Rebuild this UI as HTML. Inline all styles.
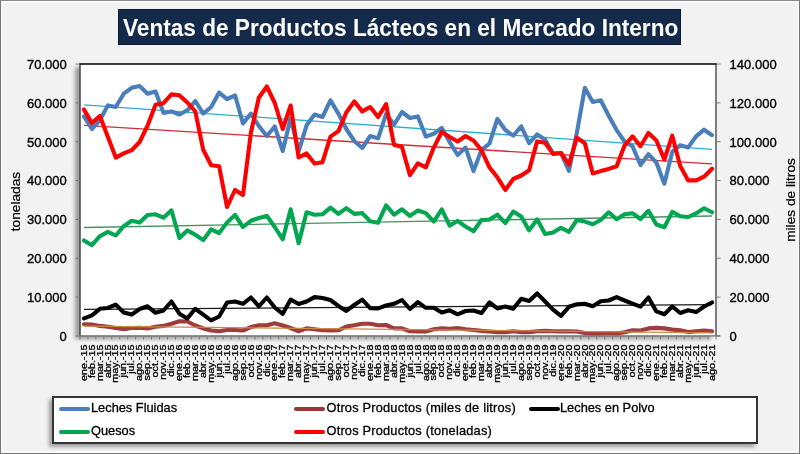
<!DOCTYPE html>
<html><head><meta charset="utf-8"><style>
html,body{margin:0;padding:0;width:800px;height:454px;overflow:hidden;background:#f2f2f2;}
body{position:relative;font-family:"Liberation Sans",sans-serif;}
.frame{position:absolute;left:0;top:0;width:798px;height:452px;border:1px solid #777;border-top-color:#8a8a8a;box-shadow:inset 0 0 0 1px #fbfbfb, inset 0 0 0 2px rgba(255,255,255,0.5);}
.title{position:absolute;left:118px;top:9px;width:561px;height:34px;background:#132a4b;border:1px solid #0c1b33;}
.ttl{position:absolute;left:123px;top:15.85px;color:#fff;font-weight:bold;font-size:23.8px;line-height:1;white-space:nowrap;transform:scaleX(0.95);transform-origin:0 0;}
.plot{position:absolute;left:80px;top:64px;width:636px;height:272px;background:#fff;box-shadow:-5px 3px 4px rgba(0,0,0,0.36);}
.legend{position:absolute;left:52px;top:396px;width:702px;height:44px;background:#fff;border:2px solid #343434;box-shadow:-3px 3px 4px rgba(0,0,0,0.35);}
svg{position:absolute;left:0;top:0;}
.ax{font-size:13.5px;fill:#000;stroke:#000;stroke-width:0.35px;}
.xl{font-size:9.8px;fill:#000;stroke:#000;stroke-width:0.3px;}
.tt{font-size:13.7px;fill:#000;stroke:#000;stroke-width:0.2px;}
.lg{position:absolute;font-size:12.8px;color:#000;-webkit-text-stroke:0.3px #000;white-space:nowrap;line-height:15px;}
.ll{position:absolute;height:4px;border-radius:2px;}
</style></head><body>
<div class="frame"></div>
<div class="title"></div>
<div class="ttl">Ventas de Productos Lácteos en el Mercado Interno</div>
<div class="plot"></div>
<div class="legend"></div>
<svg width="800" height="454" viewBox="0 0 800 454">
<defs><clipPath id="pc"><rect x="80" y="64" width="636" height="272"/></clipPath></defs>
<g>
<line x1="84.00" y1="309.40" x2="712.00" y2="304.60" stroke="#1a1a1a" stroke-width="1.3"/>
<line x1="84.00" y1="227.50" x2="712.00" y2="216.00" stroke="#4a8f5e" stroke-width="1.3"/>
<line x1="84.00" y1="104.90" x2="712.00" y2="149.30" stroke="#2badd2" stroke-width="1.3"/>
<line x1="84.00" y1="125.30" x2="712.00" y2="163.90" stroke="#d42a35" stroke-width="1.3"/>
<polyline points="83.97,324.30 91.92,324.60 99.88,325.90 107.83,326.80 115.78,328.00 123.72,329.30 131.68,328.00 139.62,327.80 147.57,328.40 155.53,326.80 163.48,325.90 171.43,323.80 179.38,321.20 187.32,321.50 195.28,325.50 203.23,328.40 211.18,330.50 219.12,331.30 227.08,330.00 235.03,330.00 242.97,330.50 250.93,327.10 258.88,325.30 266.83,325.30 274.77,323.20 282.73,325.50 290.68,328.00 298.62,331.30 306.58,328.40 314.52,329.30 322.48,330.30 330.43,330.50 338.38,330.30 346.32,326.50 354.28,325.30 362.23,323.80 370.18,323.80 378.12,325.30 386.07,325.00 394.03,328.40 401.98,328.40 409.93,331.30 417.88,331.50 425.82,331.50 433.78,329.30 441.73,328.40 449.68,328.80 457.62,328.00 465.57,329.30 473.53,330.00 481.48,330.90 489.43,331.50 497.38,332.10 505.32,332.10 513.28,331.30 521.23,332.10 529.17,332.10 537.12,331.30 545.08,330.90 553.03,331.30 560.98,331.40 568.92,331.30 576.88,331.50 584.83,333.00 592.77,333.40 600.73,333.40 608.68,333.00 616.62,333.40 624.58,332.30 632.52,330.20 640.48,330.50 648.43,328.40 656.38,327.90 664.33,328.40 672.27,329.60 680.23,330.30 688.18,332.10 696.12,331.30 704.08,330.50 712.02,331.30" fill="none" stroke="#a03c3c" stroke-width="4.1" stroke-linejoin="round" stroke-linecap="round"/>
<polyline points="83.97,318.40 91.92,315.30 99.88,308.80 107.83,308.00 115.78,304.60 123.72,312.50 131.68,314.60 139.62,309.00 147.57,306.30 155.53,312.80 163.48,310.50 171.43,301.50 179.38,313.70 187.32,318.40 195.28,308.80 203.23,314.60 211.18,320.30 219.12,316.50 227.08,302.50 235.03,301.50 242.97,303.80 250.93,297.50 258.88,306.30 266.83,297.50 274.77,307.50 282.73,313.80 290.68,299.60 298.62,304.00 306.58,301.50 314.52,297.10 322.48,298.00 330.43,300.00 338.38,305.90 346.32,310.90 354.28,305.00 362.23,299.60 370.18,308.10 378.12,308.40 386.07,305.50 394.03,303.80 401.98,300.00 409.93,309.00 417.88,302.10 425.82,307.80 433.78,307.80 441.73,312.50 449.68,310.30 457.62,314.30 465.57,311.00 473.53,310.50 481.48,313.00 489.43,302.50 497.38,308.40 505.32,306.50 513.28,308.80 521.23,298.80 529.17,300.90 537.12,293.40 545.08,301.50 553.03,309.60 560.98,315.80 568.92,306.80 576.88,304.30 584.83,303.80 592.77,306.30 600.73,301.30 608.68,300.50 616.62,297.10 624.58,300.50 632.52,303.60 640.48,306.60 648.43,297.50 656.38,311.40 664.33,314.30 672.27,306.50 680.23,313.00 688.18,310.30 696.12,312.10 704.08,306.50 712.02,302.50" fill="none" stroke="#000000" stroke-width="4.1" stroke-linejoin="round" stroke-linecap="round"/>
<polyline points="83.97,240.50 91.92,245.20 99.88,236.20 107.83,231.90 115.78,235.50 123.72,226.20 131.68,220.80 139.62,222.40 147.57,215.00 155.53,214.30 163.48,217.70 171.43,210.30 179.38,238.00 187.32,230.40 195.28,234.70 203.23,240.10 211.18,229.30 219.12,233.10 227.08,222.40 235.03,215.00 242.97,227.00 250.93,220.80 258.88,218.00 266.83,215.90 274.77,227.00 282.73,239.30 290.68,209.30 298.62,243.20 306.58,212.30 314.52,214.70 322.48,214.30 330.43,207.70 338.38,213.90 346.32,208.20 354.28,213.90 362.23,213.10 370.18,221.20 378.12,222.70 386.07,205.40 394.03,214.70 401.98,209.30 409.93,215.90 417.88,210.50 425.82,213.10 433.78,221.60 441.73,209.30 449.68,225.70 457.62,220.80 465.57,226.60 473.53,231.30 481.48,220.00 489.43,219.60 497.38,214.70 505.32,223.10 513.28,211.60 521.23,216.50 529.17,230.40 537.12,219.30 545.08,233.90 553.03,232.40 560.98,227.80 568.92,231.90 576.88,220.00 584.83,221.60 592.77,224.20 600.73,220.00 608.68,212.30 616.62,219.30 624.58,214.30 632.52,213.20 640.48,219.00 648.43,210.80 656.38,224.50 664.33,227.30 672.27,211.90 680.23,216.20 688.18,217.00 696.12,213.40 704.08,208.20 712.02,212.30" fill="none" stroke="#00a650" stroke-width="4.1" stroke-linejoin="round" stroke-linecap="round"/>
<polyline points="83.97,116.40 91.92,129.00 99.88,120.20 107.83,105.40 115.78,107.00 123.72,93.70 131.68,87.80 139.62,86.00 147.57,93.70 155.53,91.50 163.48,112.90 171.43,111.40 179.38,114.50 187.32,110.30 195.28,101.00 203.23,113.60 211.18,107.00 219.12,92.60 227.08,99.20 235.03,95.30 242.97,123.50 250.93,113.60 258.88,126.00 266.83,136.00 274.77,126.50 282.73,151.00 290.68,118.00 298.62,151.50 306.58,125.30 314.52,114.50 322.48,117.00 330.43,100.30 338.38,113.60 346.32,129.00 354.28,141.00 362.23,148.00 370.18,136.00 378.12,138.40 386.07,114.20 394.03,124.60 401.98,112.00 409.93,118.00 417.88,116.40 425.82,136.60 433.78,133.80 441.73,128.00 449.68,142.10 457.62,155.00 465.57,147.60 473.53,171.10 481.48,149.80 489.43,143.70 497.38,119.00 505.32,130.00 513.28,135.70 521.23,126.30 529.17,143.20 537.12,134.40 545.08,139.50 553.03,153.50 560.98,153.00 568.92,170.80 576.88,132.70 584.83,87.80 592.77,101.90 600.73,100.30 608.68,115.80 616.62,130.10 624.58,141.50 632.52,146.30 640.48,165.00 648.43,154.10 656.38,162.50 664.33,183.70 672.27,151.80 680.23,145.20 688.18,147.40 696.12,136.30 704.08,129.70 712.02,135.20" fill="none" stroke="#4a7ebb" stroke-width="4.1" stroke-linejoin="round" stroke-linecap="round"/>
<polyline points="83.97,109.60 91.92,123.00 99.88,116.00 107.83,136.70 115.78,157.60 123.72,153.40 131.68,150.20 139.62,142.00 147.57,125.70 155.53,104.70 163.48,103.20 171.43,94.40 179.38,95.30 187.32,102.50 195.28,111.40 203.23,149.80 211.18,165.20 219.12,166.30 227.08,207.00 235.03,190.00 242.97,194.90 250.93,132.50 258.88,97.50 266.83,86.50 274.77,103.00 282.73,129.00 290.68,105.50 298.62,157.50 306.58,153.40 314.52,163.60 322.48,162.20 330.43,136.60 338.38,131.10 346.32,112.50 354.28,101.40 362.23,111.40 370.18,107.00 378.12,117.00 386.07,104.10 394.03,144.80 401.98,147.00 409.93,175.10 417.88,163.40 425.82,167.40 433.78,147.60 441.73,132.00 449.68,137.00 457.62,141.50 465.57,136.00 473.53,140.50 481.48,150.30 489.43,167.40 497.38,177.30 505.32,190.00 513.28,179.00 521.23,175.50 529.17,170.20 537.12,141.40 545.08,142.80 553.03,153.90 560.98,153.00 568.92,164.50 576.88,137.70 584.83,143.20 592.77,173.50 600.73,171.10 608.68,168.90 616.62,166.30 624.58,145.60 632.52,136.30 640.48,146.20 648.43,133.00 656.38,140.50 664.33,159.50 672.27,135.70 680.23,166.10 688.18,180.40 696.12,180.40 704.08,176.70 712.02,168.70" fill="none" stroke="#ff0000" stroke-width="4.1" stroke-linejoin="round" stroke-linecap="round"/>
<line x1="84.00" y1="326.15" x2="712.00" y2="332.80" stroke="#c98b45" stroke-width="1.2"/>
</g>
<line x1="80.00" y1="64.00" x2="80.00" y2="336.00" stroke="#505050" stroke-width="1.6"/>
<line x1="716.00" y1="64.00" x2="716.00" y2="336.00" stroke="#5e5e60" stroke-width="1.6"/>
<line x1="79.00" y1="335.80" x2="720.00" y2="335.80" stroke="#6a6a6e" stroke-width="1.3"/>
<line x1="79.20" y1="64.00" x2="716.80" y2="64.00" stroke="#000" stroke-width="1.6"/>
<line x1="75.50" y1="336.00" x2="80.00" y2="336.00" stroke="#7f7f7f" stroke-width="1"/>
<line x1="716.00" y1="336.00" x2="720.50" y2="336.00" stroke="#7f7f7f" stroke-width="1"/>
<line x1="75.50" y1="297.14" x2="80.00" y2="297.14" stroke="#7f7f7f" stroke-width="1"/>
<line x1="716.00" y1="297.14" x2="720.50" y2="297.14" stroke="#7f7f7f" stroke-width="1"/>
<line x1="75.50" y1="258.29" x2="80.00" y2="258.29" stroke="#7f7f7f" stroke-width="1"/>
<line x1="716.00" y1="258.29" x2="720.50" y2="258.29" stroke="#7f7f7f" stroke-width="1"/>
<line x1="75.50" y1="219.43" x2="80.00" y2="219.43" stroke="#7f7f7f" stroke-width="1"/>
<line x1="716.00" y1="219.43" x2="720.50" y2="219.43" stroke="#7f7f7f" stroke-width="1"/>
<line x1="75.50" y1="180.57" x2="80.00" y2="180.57" stroke="#7f7f7f" stroke-width="1"/>
<line x1="716.00" y1="180.57" x2="720.50" y2="180.57" stroke="#7f7f7f" stroke-width="1"/>
<line x1="75.50" y1="141.71" x2="80.00" y2="141.71" stroke="#7f7f7f" stroke-width="1"/>
<line x1="716.00" y1="141.71" x2="720.50" y2="141.71" stroke="#7f7f7f" stroke-width="1"/>
<line x1="75.50" y1="102.86" x2="80.00" y2="102.86" stroke="#7f7f7f" stroke-width="1"/>
<line x1="716.00" y1="102.86" x2="720.50" y2="102.86" stroke="#7f7f7f" stroke-width="1"/>
<line x1="75.50" y1="64.00" x2="80.00" y2="64.00" stroke="#7f7f7f" stroke-width="1"/>
<line x1="716.00" y1="64.00" x2="720.50" y2="64.00" stroke="#7f7f7f" stroke-width="1"/>
<line x1="80.00" y1="336.00" x2="80.00" y2="339.50" stroke="#7a7a7a" stroke-width="1"/>
<line x1="87.95" y1="336.00" x2="87.95" y2="339.50" stroke="#7a7a7a" stroke-width="1"/>
<line x1="95.90" y1="336.00" x2="95.90" y2="339.50" stroke="#7a7a7a" stroke-width="1"/>
<line x1="103.85" y1="336.00" x2="103.85" y2="339.50" stroke="#7a7a7a" stroke-width="1"/>
<line x1="111.80" y1="336.00" x2="111.80" y2="339.50" stroke="#7a7a7a" stroke-width="1"/>
<line x1="119.75" y1="336.00" x2="119.75" y2="339.50" stroke="#7a7a7a" stroke-width="1"/>
<line x1="127.70" y1="336.00" x2="127.70" y2="339.50" stroke="#7a7a7a" stroke-width="1"/>
<line x1="135.65" y1="336.00" x2="135.65" y2="339.50" stroke="#7a7a7a" stroke-width="1"/>
<line x1="143.60" y1="336.00" x2="143.60" y2="339.50" stroke="#7a7a7a" stroke-width="1"/>
<line x1="151.55" y1="336.00" x2="151.55" y2="339.50" stroke="#7a7a7a" stroke-width="1"/>
<line x1="159.50" y1="336.00" x2="159.50" y2="339.50" stroke="#7a7a7a" stroke-width="1"/>
<line x1="167.45" y1="336.00" x2="167.45" y2="339.50" stroke="#7a7a7a" stroke-width="1"/>
<line x1="175.40" y1="336.00" x2="175.40" y2="339.50" stroke="#7a7a7a" stroke-width="1"/>
<line x1="183.35" y1="336.00" x2="183.35" y2="339.50" stroke="#7a7a7a" stroke-width="1"/>
<line x1="191.30" y1="336.00" x2="191.30" y2="339.50" stroke="#7a7a7a" stroke-width="1"/>
<line x1="199.25" y1="336.00" x2="199.25" y2="339.50" stroke="#7a7a7a" stroke-width="1"/>
<line x1="207.20" y1="336.00" x2="207.20" y2="339.50" stroke="#7a7a7a" stroke-width="1"/>
<line x1="215.15" y1="336.00" x2="215.15" y2="339.50" stroke="#7a7a7a" stroke-width="1"/>
<line x1="223.10" y1="336.00" x2="223.10" y2="339.50" stroke="#7a7a7a" stroke-width="1"/>
<line x1="231.05" y1="336.00" x2="231.05" y2="339.50" stroke="#7a7a7a" stroke-width="1"/>
<line x1="239.00" y1="336.00" x2="239.00" y2="339.50" stroke="#7a7a7a" stroke-width="1"/>
<line x1="246.95" y1="336.00" x2="246.95" y2="339.50" stroke="#7a7a7a" stroke-width="1"/>
<line x1="254.90" y1="336.00" x2="254.90" y2="339.50" stroke="#7a7a7a" stroke-width="1"/>
<line x1="262.85" y1="336.00" x2="262.85" y2="339.50" stroke="#7a7a7a" stroke-width="1"/>
<line x1="270.80" y1="336.00" x2="270.80" y2="339.50" stroke="#7a7a7a" stroke-width="1"/>
<line x1="278.75" y1="336.00" x2="278.75" y2="339.50" stroke="#7a7a7a" stroke-width="1"/>
<line x1="286.70" y1="336.00" x2="286.70" y2="339.50" stroke="#7a7a7a" stroke-width="1"/>
<line x1="294.65" y1="336.00" x2="294.65" y2="339.50" stroke="#7a7a7a" stroke-width="1"/>
<line x1="302.60" y1="336.00" x2="302.60" y2="339.50" stroke="#7a7a7a" stroke-width="1"/>
<line x1="310.55" y1="336.00" x2="310.55" y2="339.50" stroke="#7a7a7a" stroke-width="1"/>
<line x1="318.50" y1="336.00" x2="318.50" y2="339.50" stroke="#7a7a7a" stroke-width="1"/>
<line x1="326.45" y1="336.00" x2="326.45" y2="339.50" stroke="#7a7a7a" stroke-width="1"/>
<line x1="334.40" y1="336.00" x2="334.40" y2="339.50" stroke="#7a7a7a" stroke-width="1"/>
<line x1="342.35" y1="336.00" x2="342.35" y2="339.50" stroke="#7a7a7a" stroke-width="1"/>
<line x1="350.30" y1="336.00" x2="350.30" y2="339.50" stroke="#7a7a7a" stroke-width="1"/>
<line x1="358.25" y1="336.00" x2="358.25" y2="339.50" stroke="#7a7a7a" stroke-width="1"/>
<line x1="366.20" y1="336.00" x2="366.20" y2="339.50" stroke="#7a7a7a" stroke-width="1"/>
<line x1="374.15" y1="336.00" x2="374.15" y2="339.50" stroke="#7a7a7a" stroke-width="1"/>
<line x1="382.10" y1="336.00" x2="382.10" y2="339.50" stroke="#7a7a7a" stroke-width="1"/>
<line x1="390.05" y1="336.00" x2="390.05" y2="339.50" stroke="#7a7a7a" stroke-width="1"/>
<line x1="398.00" y1="336.00" x2="398.00" y2="339.50" stroke="#7a7a7a" stroke-width="1"/>
<line x1="405.95" y1="336.00" x2="405.95" y2="339.50" stroke="#7a7a7a" stroke-width="1"/>
<line x1="413.90" y1="336.00" x2="413.90" y2="339.50" stroke="#7a7a7a" stroke-width="1"/>
<line x1="421.85" y1="336.00" x2="421.85" y2="339.50" stroke="#7a7a7a" stroke-width="1"/>
<line x1="429.80" y1="336.00" x2="429.80" y2="339.50" stroke="#7a7a7a" stroke-width="1"/>
<line x1="437.75" y1="336.00" x2="437.75" y2="339.50" stroke="#7a7a7a" stroke-width="1"/>
<line x1="445.70" y1="336.00" x2="445.70" y2="339.50" stroke="#7a7a7a" stroke-width="1"/>
<line x1="453.65" y1="336.00" x2="453.65" y2="339.50" stroke="#7a7a7a" stroke-width="1"/>
<line x1="461.60" y1="336.00" x2="461.60" y2="339.50" stroke="#7a7a7a" stroke-width="1"/>
<line x1="469.55" y1="336.00" x2="469.55" y2="339.50" stroke="#7a7a7a" stroke-width="1"/>
<line x1="477.50" y1="336.00" x2="477.50" y2="339.50" stroke="#7a7a7a" stroke-width="1"/>
<line x1="485.45" y1="336.00" x2="485.45" y2="339.50" stroke="#7a7a7a" stroke-width="1"/>
<line x1="493.40" y1="336.00" x2="493.40" y2="339.50" stroke="#7a7a7a" stroke-width="1"/>
<line x1="501.35" y1="336.00" x2="501.35" y2="339.50" stroke="#7a7a7a" stroke-width="1"/>
<line x1="509.30" y1="336.00" x2="509.30" y2="339.50" stroke="#7a7a7a" stroke-width="1"/>
<line x1="517.25" y1="336.00" x2="517.25" y2="339.50" stroke="#7a7a7a" stroke-width="1"/>
<line x1="525.20" y1="336.00" x2="525.20" y2="339.50" stroke="#7a7a7a" stroke-width="1"/>
<line x1="533.15" y1="336.00" x2="533.15" y2="339.50" stroke="#7a7a7a" stroke-width="1"/>
<line x1="541.10" y1="336.00" x2="541.10" y2="339.50" stroke="#7a7a7a" stroke-width="1"/>
<line x1="549.05" y1="336.00" x2="549.05" y2="339.50" stroke="#7a7a7a" stroke-width="1"/>
<line x1="557.00" y1="336.00" x2="557.00" y2="339.50" stroke="#7a7a7a" stroke-width="1"/>
<line x1="564.95" y1="336.00" x2="564.95" y2="339.50" stroke="#7a7a7a" stroke-width="1"/>
<line x1="572.90" y1="336.00" x2="572.90" y2="339.50" stroke="#7a7a7a" stroke-width="1"/>
<line x1="580.85" y1="336.00" x2="580.85" y2="339.50" stroke="#7a7a7a" stroke-width="1"/>
<line x1="588.80" y1="336.00" x2="588.80" y2="339.50" stroke="#7a7a7a" stroke-width="1"/>
<line x1="596.75" y1="336.00" x2="596.75" y2="339.50" stroke="#7a7a7a" stroke-width="1"/>
<line x1="604.70" y1="336.00" x2="604.70" y2="339.50" stroke="#7a7a7a" stroke-width="1"/>
<line x1="612.65" y1="336.00" x2="612.65" y2="339.50" stroke="#7a7a7a" stroke-width="1"/>
<line x1="620.60" y1="336.00" x2="620.60" y2="339.50" stroke="#7a7a7a" stroke-width="1"/>
<line x1="628.55" y1="336.00" x2="628.55" y2="339.50" stroke="#7a7a7a" stroke-width="1"/>
<line x1="636.50" y1="336.00" x2="636.50" y2="339.50" stroke="#7a7a7a" stroke-width="1"/>
<line x1="644.45" y1="336.00" x2="644.45" y2="339.50" stroke="#7a7a7a" stroke-width="1"/>
<line x1="652.40" y1="336.00" x2="652.40" y2="339.50" stroke="#7a7a7a" stroke-width="1"/>
<line x1="660.35" y1="336.00" x2="660.35" y2="339.50" stroke="#7a7a7a" stroke-width="1"/>
<line x1="668.30" y1="336.00" x2="668.30" y2="339.50" stroke="#7a7a7a" stroke-width="1"/>
<line x1="676.25" y1="336.00" x2="676.25" y2="339.50" stroke="#7a7a7a" stroke-width="1"/>
<line x1="684.20" y1="336.00" x2="684.20" y2="339.50" stroke="#7a7a7a" stroke-width="1"/>
<line x1="692.15" y1="336.00" x2="692.15" y2="339.50" stroke="#7a7a7a" stroke-width="1"/>
<line x1="700.10" y1="336.00" x2="700.10" y2="339.50" stroke="#7a7a7a" stroke-width="1"/>
<line x1="708.05" y1="336.00" x2="708.05" y2="339.50" stroke="#7a7a7a" stroke-width="1"/>
<line x1="716.00" y1="336.00" x2="716.00" y2="339.50" stroke="#7a7a7a" stroke-width="1"/>
<text transform="translate(66.8,340.80) scale(0.965,1)" text-anchor="end" class="ax">0</text>
<text transform="translate(729.6,340.80) scale(0.965,1)" class="ax">0</text>
<text transform="translate(66.8,301.94) scale(0.965,1)" text-anchor="end" class="ax">10.000</text>
<text transform="translate(729.6,301.94) scale(0.965,1)" class="ax">20.000</text>
<text transform="translate(66.8,263.09) scale(0.965,1)" text-anchor="end" class="ax">20.000</text>
<text transform="translate(729.6,263.09) scale(0.965,1)" class="ax">40.000</text>
<text transform="translate(66.8,224.23) scale(0.965,1)" text-anchor="end" class="ax">30.000</text>
<text transform="translate(729.6,224.23) scale(0.965,1)" class="ax">60.000</text>
<text transform="translate(66.8,185.37) scale(0.965,1)" text-anchor="end" class="ax">40.000</text>
<text transform="translate(729.6,185.37) scale(0.965,1)" class="ax">80.000</text>
<text transform="translate(66.8,146.51) scale(0.965,1)" text-anchor="end" class="ax">50.000</text>
<text transform="translate(729.6,146.51) scale(0.965,1)" class="ax">100.000</text>
<text transform="translate(66.8,107.66) scale(0.965,1)" text-anchor="end" class="ax">60.000</text>
<text transform="translate(729.6,107.66) scale(0.965,1)" class="ax">120.000</text>
<text transform="translate(66.8,68.80) scale(0.965,1)" text-anchor="end" class="ax">70.000</text>
<text transform="translate(729.6,68.80) scale(0.965,1)" class="ax">140.000</text>
<text transform="translate(86.67,344.5) rotate(-90) scale(1.1,1)" text-anchor="end" class="xl">ene.-15</text>
<text transform="translate(94.62,344.5) rotate(-90) scale(1.1,1)" text-anchor="end" class="xl">feb.-15</text>
<text transform="translate(102.58,344.5) rotate(-90) scale(1.1,1)" text-anchor="end" class="xl">mar.-15</text>
<text transform="translate(110.53,344.5) rotate(-90) scale(1.1,1)" text-anchor="end" class="xl">abr.-15</text>
<text transform="translate(118.48,344.5) rotate(-90) scale(1.1,1)" text-anchor="end" class="xl">may.-15</text>
<text transform="translate(126.42,344.5) rotate(-90) scale(1.1,1)" text-anchor="end" class="xl">jun.-15</text>
<text transform="translate(134.38,344.5) rotate(-90) scale(1.1,1)" text-anchor="end" class="xl">jul.-15</text>
<text transform="translate(142.32,344.5) rotate(-90) scale(1.1,1)" text-anchor="end" class="xl">ago.-15</text>
<text transform="translate(150.27,344.5) rotate(-90) scale(1.1,1)" text-anchor="end" class="xl">sep.-15</text>
<text transform="translate(158.22,344.5) rotate(-90) scale(1.1,1)" text-anchor="end" class="xl">oct.-15</text>
<text transform="translate(166.18,344.5) rotate(-90) scale(1.1,1)" text-anchor="end" class="xl">nov.-15</text>
<text transform="translate(174.12,344.5) rotate(-90) scale(1.1,1)" text-anchor="end" class="xl">dic.-15</text>
<text transform="translate(182.07,344.5) rotate(-90) scale(1.1,1)" text-anchor="end" class="xl">ene.-16</text>
<text transform="translate(190.02,344.5) rotate(-90) scale(1.1,1)" text-anchor="end" class="xl">feb.-16</text>
<text transform="translate(197.97,344.5) rotate(-90) scale(1.1,1)" text-anchor="end" class="xl">mar.-16</text>
<text transform="translate(205.93,344.5) rotate(-90) scale(1.1,1)" text-anchor="end" class="xl">abr.-16</text>
<text transform="translate(213.88,344.5) rotate(-90) scale(1.1,1)" text-anchor="end" class="xl">may.-16</text>
<text transform="translate(221.82,344.5) rotate(-90) scale(1.1,1)" text-anchor="end" class="xl">jun.-16</text>
<text transform="translate(229.78,344.5) rotate(-90) scale(1.1,1)" text-anchor="end" class="xl">jul.-16</text>
<text transform="translate(237.72,344.5) rotate(-90) scale(1.1,1)" text-anchor="end" class="xl">ago.-16</text>
<text transform="translate(245.67,344.5) rotate(-90) scale(1.1,1)" text-anchor="end" class="xl">sep.-16</text>
<text transform="translate(253.62,344.5) rotate(-90) scale(1.1,1)" text-anchor="end" class="xl">oct.-16</text>
<text transform="translate(261.57,344.5) rotate(-90) scale(1.1,1)" text-anchor="end" class="xl">nov.-16</text>
<text transform="translate(269.53,344.5) rotate(-90) scale(1.1,1)" text-anchor="end" class="xl">dic.-16</text>
<text transform="translate(277.47,344.5) rotate(-90) scale(1.1,1)" text-anchor="end" class="xl">ene.-17</text>
<text transform="translate(285.43,344.5) rotate(-90) scale(1.1,1)" text-anchor="end" class="xl">feb.-17</text>
<text transform="translate(293.38,344.5) rotate(-90) scale(1.1,1)" text-anchor="end" class="xl">mar.-17</text>
<text transform="translate(301.32,344.5) rotate(-90) scale(1.1,1)" text-anchor="end" class="xl">abr.-17</text>
<text transform="translate(309.28,344.5) rotate(-90) scale(1.1,1)" text-anchor="end" class="xl">may.-17</text>
<text transform="translate(317.22,344.5) rotate(-90) scale(1.1,1)" text-anchor="end" class="xl">jun.-17</text>
<text transform="translate(325.18,344.5) rotate(-90) scale(1.1,1)" text-anchor="end" class="xl">jul.-17</text>
<text transform="translate(333.12,344.5) rotate(-90) scale(1.1,1)" text-anchor="end" class="xl">ago.-17</text>
<text transform="translate(341.07,344.5) rotate(-90) scale(1.1,1)" text-anchor="end" class="xl">sep.-17</text>
<text transform="translate(349.02,344.5) rotate(-90) scale(1.1,1)" text-anchor="end" class="xl">oct.-17</text>
<text transform="translate(356.98,344.5) rotate(-90) scale(1.1,1)" text-anchor="end" class="xl">nov.-17</text>
<text transform="translate(364.93,344.5) rotate(-90) scale(1.1,1)" text-anchor="end" class="xl">dic.-17</text>
<text transform="translate(372.88,344.5) rotate(-90) scale(1.1,1)" text-anchor="end" class="xl">ene.-18</text>
<text transform="translate(380.82,344.5) rotate(-90) scale(1.1,1)" text-anchor="end" class="xl">feb.-18</text>
<text transform="translate(388.77,344.5) rotate(-90) scale(1.1,1)" text-anchor="end" class="xl">mar.-18</text>
<text transform="translate(396.73,344.5) rotate(-90) scale(1.1,1)" text-anchor="end" class="xl">abr.-18</text>
<text transform="translate(404.68,344.5) rotate(-90) scale(1.1,1)" text-anchor="end" class="xl">may.-18</text>
<text transform="translate(412.62,344.5) rotate(-90) scale(1.1,1)" text-anchor="end" class="xl">jun.-18</text>
<text transform="translate(420.57,344.5) rotate(-90) scale(1.1,1)" text-anchor="end" class="xl">jul.-18</text>
<text transform="translate(428.52,344.5) rotate(-90) scale(1.1,1)" text-anchor="end" class="xl">ago.-18</text>
<text transform="translate(436.48,344.5) rotate(-90) scale(1.1,1)" text-anchor="end" class="xl">sep.-18</text>
<text transform="translate(444.43,344.5) rotate(-90) scale(1.1,1)" text-anchor="end" class="xl">oct.-18</text>
<text transform="translate(452.38,344.5) rotate(-90) scale(1.1,1)" text-anchor="end" class="xl">nov.-18</text>
<text transform="translate(460.32,344.5) rotate(-90) scale(1.1,1)" text-anchor="end" class="xl">dic.-18</text>
<text transform="translate(468.27,344.5) rotate(-90) scale(1.1,1)" text-anchor="end" class="xl">ene.-19</text>
<text transform="translate(476.23,344.5) rotate(-90) scale(1.1,1)" text-anchor="end" class="xl">feb.-19</text>
<text transform="translate(484.18,344.5) rotate(-90) scale(1.1,1)" text-anchor="end" class="xl">mar.-19</text>
<text transform="translate(492.12,344.5) rotate(-90) scale(1.1,1)" text-anchor="end" class="xl">abr.-19</text>
<text transform="translate(500.07,344.5) rotate(-90) scale(1.1,1)" text-anchor="end" class="xl">may.-19</text>
<text transform="translate(508.02,344.5) rotate(-90) scale(1.1,1)" text-anchor="end" class="xl">jun.-19</text>
<text transform="translate(515.98,344.5) rotate(-90) scale(1.1,1)" text-anchor="end" class="xl">jul.-19</text>
<text transform="translate(523.93,344.5) rotate(-90) scale(1.1,1)" text-anchor="end" class="xl">ago.-19</text>
<text transform="translate(531.88,344.5) rotate(-90) scale(1.1,1)" text-anchor="end" class="xl">sep.-19</text>
<text transform="translate(539.83,344.5) rotate(-90) scale(1.1,1)" text-anchor="end" class="xl">oct.-19</text>
<text transform="translate(547.78,344.5) rotate(-90) scale(1.1,1)" text-anchor="end" class="xl">nov.-19</text>
<text transform="translate(555.73,344.5) rotate(-90) scale(1.1,1)" text-anchor="end" class="xl">dic.-19</text>
<text transform="translate(563.68,344.5) rotate(-90) scale(1.1,1)" text-anchor="end" class="xl">ene.-20</text>
<text transform="translate(571.62,344.5) rotate(-90) scale(1.1,1)" text-anchor="end" class="xl">feb.-20</text>
<text transform="translate(579.58,344.5) rotate(-90) scale(1.1,1)" text-anchor="end" class="xl">mar.-20</text>
<text transform="translate(587.53,344.5) rotate(-90) scale(1.1,1)" text-anchor="end" class="xl">abr.-20</text>
<text transform="translate(595.48,344.5) rotate(-90) scale(1.1,1)" text-anchor="end" class="xl">may.-20</text>
<text transform="translate(603.43,344.5) rotate(-90) scale(1.1,1)" text-anchor="end" class="xl">jun.-20</text>
<text transform="translate(611.38,344.5) rotate(-90) scale(1.1,1)" text-anchor="end" class="xl">jul.-20</text>
<text transform="translate(619.33,344.5) rotate(-90) scale(1.1,1)" text-anchor="end" class="xl">ago.-20</text>
<text transform="translate(627.28,344.5) rotate(-90) scale(1.1,1)" text-anchor="end" class="xl">sep.-20</text>
<text transform="translate(635.23,344.5) rotate(-90) scale(1.1,1)" text-anchor="end" class="xl">oct.-20</text>
<text transform="translate(643.18,344.5) rotate(-90) scale(1.1,1)" text-anchor="end" class="xl">nov.-20</text>
<text transform="translate(651.13,344.5) rotate(-90) scale(1.1,1)" text-anchor="end" class="xl">dic.-20</text>
<text transform="translate(659.08,344.5) rotate(-90) scale(1.1,1)" text-anchor="end" class="xl">ene.-21</text>
<text transform="translate(667.03,344.5) rotate(-90) scale(1.1,1)" text-anchor="end" class="xl">feb.-21</text>
<text transform="translate(674.98,344.5) rotate(-90) scale(1.1,1)" text-anchor="end" class="xl">mar.-21</text>
<text transform="translate(682.93,344.5) rotate(-90) scale(1.1,1)" text-anchor="end" class="xl">abr.-21</text>
<text transform="translate(690.88,344.5) rotate(-90) scale(1.1,1)" text-anchor="end" class="xl">may.-21</text>
<text transform="translate(698.83,344.5) rotate(-90) scale(1.1,1)" text-anchor="end" class="xl">jun.-21</text>
<text transform="translate(706.78,344.5) rotate(-90) scale(1.1,1)" text-anchor="end" class="xl">jul.-21</text>
<text transform="translate(714.73,344.5) rotate(-90) scale(1.1,1)" text-anchor="end" class="xl">ago.-21</text>
<text transform="translate(19.8,201.5) rotate(-90)" text-anchor="middle" class="tt">toneladas</text>
<text transform="translate(794.5,200) rotate(-90)" text-anchor="middle" class="tt">miles de litros</text>
</svg>
<div class="ll" style="left:59px;top:406.5px;width:31px;background:#4a7ebb"></div>
<div class="lg" style="left:91px;top:400px">Leches Fluidas</div>
<div class="ll" style="left:59px;top:429.5px;width:31px;background:#00a650"></div>
<div class="lg" style="left:91px;top:423px">Quesos</div>
<div class="ll" style="left:293.5px;top:406.5px;width:31px;background:#983836"></div>
<div class="lg" style="left:326.5px;top:400px;letter-spacing:0.2px">Otros Productos (miles de litros)</div>
<div class="ll" style="left:293.5px;top:429.5px;width:31px;background:#ff0000"></div>
<div class="lg" style="left:326.5px;top:423px;letter-spacing:0.2px">Otros Productos (toneladas)</div>
<div class="ll" style="left:528.5px;top:406.5px;width:31px;background:#000"></div>
<div class="lg" style="left:560px;top:400px">Leches en Polvo</div>
</body></html>
